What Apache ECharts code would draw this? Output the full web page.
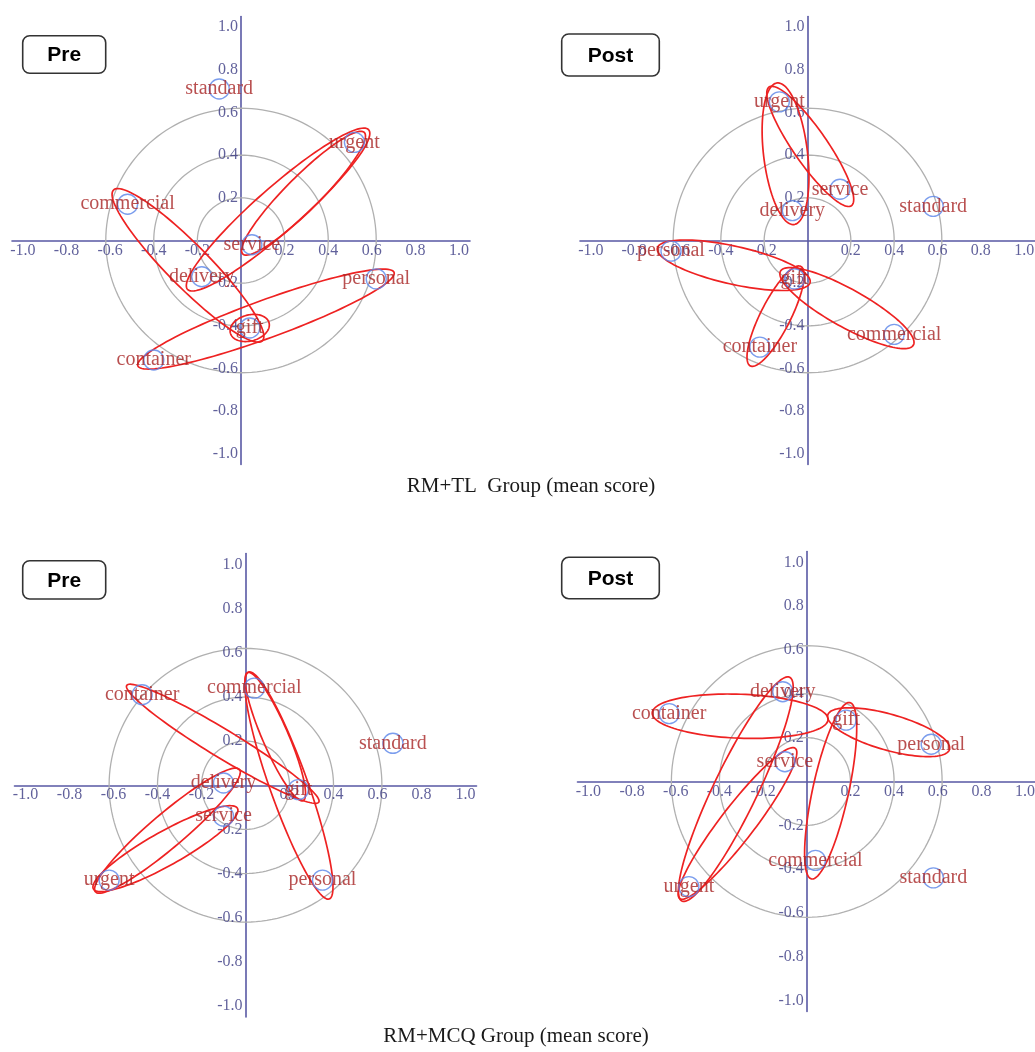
<!DOCTYPE html>
<html>
<head>
<meta charset="utf-8">
<script src="https://cdn.jsdelivr.net/npm/echarts@6/dist/echarts.min.js"></script>
<style>
html,body{margin:0;padding:0;background:#fff;}
#chart{width:1035px;height:1052px;}
</style>
</head>
<body>
<div id="chart"></div>
<script>
// ---- data ----
const WORDS = ['standard', 'urgent', 'commercial', 'service', 'delivery', 'personal', 'gift', 'container'];

// RM+TL group, pre
const TL_PRE_X = [-0.10, 0.52, -0.52, 0.05, -0.18, 0.62, 0.04, -0.40];
const TL_PRE_Y = [0.71, 0.46, 0.17, -0.02, -0.17, -0.18, -0.41, -0.56];
// RM+TL group, post
const TL_POST_X = [0.58, -0.13, 0.40, 0.15, -0.07, -0.63, -0.06, -0.22];
const TL_POST_Y = [0.16, 0.65, -0.44, 0.24, 0.14, -0.05, -0.18, -0.50];
// RM+MCQ group, pre
const MCQ_PRE_X = [0.67, -0.62, 0.04, -0.10, -0.10, 0.35, 0.24, -0.47];
const MCQ_PRE_Y = [0.19, -0.43, 0.44, -0.14, 0.01, -0.43, -0.02, 0.41];
// RM+MCQ group, post
const MCQ_POST_X = [0.58, -0.54, 0.04, -0.10, -0.11, 0.57, 0.18, -0.63];
const MCQ_POST_Y = [-0.44, -0.48, -0.36, 0.09, 0.41, 0.17, 0.28, 0.31];

// grouped word pairs (red loops)
const TL_PRE_GROUPS = [['urgent', 'delivery'], ['urgent', 'service'], ['commercial', 'gift'], ['container', 'personal'], ['gift', 'gift']];
const TL_POST_GROUPS = [['urgent', 'delivery'], ['urgent', 'service'], ['personal', 'gift'], ['gift', 'commercial'], ['container', 'gift']];
const MCQ_PRE_GROUPS = [['container', 'gift'], ['commercial', 'gift'], ['commercial', 'personal'], ['delivery', 'urgent'], ['service', 'urgent']];
const MCQ_POST_GROUPS = [['container', 'gift'], ['gift', 'personal'], ['delivery', 'urgent'], ['service', 'urgent'], ['gift', 'commercial']];

const RING_RADII = [0.2, 0.4, 0.62];
const TICK_LABELS = ['-1.0', '-0.8', '-0.6', '-0.4', '-0.2', '0.2', '0.4', '0.6', '0.8', '1.0'];
const PANEL_TAGS = ['Pre', 'Post', 'Pre', 'Post'];
const CAPTIONS = ['RM+TL  Group (mean score)', 'RM+MCQ Group (mean score)'];

// ---- loop drawing geometry (px): [extend past first, extend past second, half width, angle for single-word loop] ----
const TL_PRE_LOOPS = [[19, 19, 22], [14, 13, 17], [20, 18, 21], [17, 19, 19], [20, 20, 13, 15]];
const TL_POST_LOOPS = [[19, 14, 22], [18, 20, 17], [14, 16, 19], [16, 22, 19], [21, 14, 15]];
const MCQ_PRE_LOOPS = [[18, 24, 14], [17, 12, 13], [17, 20, 19], [21, 18, 17], [16, 18, 17]];
const MCQ_POST_LOOPS = [[17, -18, 22], [19, 19, 18], [16, 16, 22], [17, 15, 17], [18, 19, 18]];

// ---- layout & style ----
const GRID_BOXES = [
  {left: 12, top: 16.5, width: 458, height: 448},
  {left: 580, top: 16.5, width: 455, height: 448},
  {left: 14.5, top: 553.5, width: 462, height: 463.5},
  {left: 577.5, top: 551.5, width: 458.5, height: 460}
];
const TAG_BOXES = [
  {x: 22.7, y: 35.7, w: 83, h: 37.6},
  {x: 561.7, y: 34, w: 97.6, h: 42},
  {x: 22.7, y: 560.7, w: 83, h: 38.3},
  {x: 561.7, y: 557.3, w: 97.6, h: 41.4}
];
const CAPTION_POS = [[531, 486], [516, 1036]];

const AXIS_COLOR = '#5858a4';
const AXIS_LABEL_COLOR = '#3a3a82';
const WORD_COLOR = '#a82424';
const LOOP_COLOR = '#ee2222';
const RING_COLOR = '#b0b0b0';
const DOT_COLOR = '#5a84e8';
const SERIF = '"Liberation Serif", "Times New Roman", serif';

const PANELS = [
  {x: TL_PRE_X, y: TL_PRE_Y, groups: TL_PRE_GROUPS, loops: TL_PRE_LOOPS},
  {x: TL_POST_X, y: TL_POST_Y, groups: TL_POST_GROUPS, loops: TL_POST_LOOPS},
  {x: MCQ_PRE_X, y: MCQ_PRE_Y, groups: MCQ_PRE_GROUPS, loops: MCQ_PRE_LOOPS},
  {x: MCQ_POST_X, y: MCQ_POST_Y, groups: MCQ_POST_GROUPS, loops: MCQ_POST_LOOPS}
];

function ringItem(params, api) {
  const r = api.value(0);
  const c = api.coord([0, 0]);
  const s = api.size([r, r]);
  const pts = [];
  for (let k = 0; k <= 160; k++) {
    const t = k / 160 * 2 * Math.PI;
    pts.push([c[0] + s[0] * Math.cos(t), c[1] + s[1] * Math.sin(t)]);
  }
  return {type: 'polyline', shape: {points: pts}, style: {stroke: RING_COLOR, lineWidth: 1.3, fill: null}, silent: true};
}

function loopItem(params, api) {
  const a = api.coord([api.value(0), api.value(1)]);
  const b = api.coord([api.value(2), api.value(3)]);
  const eA = api.value(4), eB = api.value(5), hw = api.value(6), ang = api.value(7) || 0;
  const dx = b[0] - a[0], dy = b[1] - a[1];
  const len = Math.hypot(dx, dy);
  let ux, uy;
  if (len < 1e-6) { const r = ang * Math.PI / 180; ux = Math.cos(r); uy = -Math.sin(r); }
  else { ux = dx / len; uy = dy / len; }
  const p1 = [a[0] - ux * eA, a[1] - uy * eA];
  const p2 = [b[0] + ux * eB, b[1] + uy * eB];
  const cx = (p1[0] + p2[0]) / 2, cy = (p1[1] + p2[1]) / 2;
  const hl = Math.hypot(p2[0] - p1[0], p2[1] - p1[1]) / 2;
  const nx = -uy, ny = ux;
  const pts = [];
  for (let k = 0; k < 120; k++) {
    const t = k / 120 * 2 * Math.PI;
    const lx = hl * Math.cos(t), ly = hw * Math.sin(t);
    pts.push([cx + ux * lx + nx * ly, cy + uy * lx + ny * ly]);
  }
  return {type: 'polygon', shape: {points: pts}, style: {fill: 'none', stroke: LOOP_COLOR, lineWidth: 1.7}, silent: true};
}

const TICK_VALUES = TICK_LABELS.map(s => parseFloat(s));
const tickLabelStyle = {show: true, color: AXIS_LABEL_COLOR, fontFamily: SERIF, fontSize: 16, textBorderWidth: 0};

const grids = [], xAxes = [], yAxes = [], series = [];
PANELS.forEach((p, i) => {
  grids.push(Object.assign({outerBoundsMode: 'none', containLabel: false}, GRID_BOXES[i]));
  const axisCommon = {
    gridIndex: i, type: 'value', min: -1.05, max: 1.05, splitNumber: 10,
    axisLine: {show: true, onZero: true, lineStyle: {color: AXIS_COLOR, width: 1.6}},
    axisTick: {show: false}, splitLine: {show: false},
    axisLabel: {show: false}
  };
  xAxes.push(Object.assign({}, axisCommon));
  yAxes.push(Object.assign({}, axisCommon));

  series.push({
    type: 'custom', xAxisIndex: i, yAxisIndex: i, z: 1, silent: true,
    renderItem: ringItem,
    data: RING_RADII.map(r => [r, 0])
  });
  // tick labels along the horizontal axis (at y = 0)
  series.push({
    type: 'scatter', xAxisIndex: i, yAxisIndex: i, z: 2, silent: true,
    symbol: 'circle', symbolSize: 0,
    label: Object.assign({position: 'bottom', distance: 2, formatter: d => TICK_LABELS[d.dataIndex]}, tickLabelStyle),
    emphasis: {disabled: true},
    data: TICK_VALUES.map(v => [v, 0])
  });
  // tick labels along the vertical axis (at x = 0)
  series.push({
    type: 'scatter', xAxisIndex: i, yAxisIndex: i, z: 2, silent: true,
    symbol: 'circle', symbolSize: 0,
    label: Object.assign({position: 'left', distance: 3, formatter: d => TICK_LABELS[d.dataIndex]}, tickLabelStyle),
    emphasis: {disabled: true},
    data: TICK_VALUES.map(v => [0, v])
  });
  series.push({
    type: 'custom', xAxisIndex: i, yAxisIndex: i, z: 3, silent: true,
    renderItem: loopItem,
    data: p.groups.map((g, j) => {
      const ia = WORDS.indexOf(g[0]), ib = WORDS.indexOf(g[1]);
      const L = p.loops[j];
      return [p.x[ia], p.y[ia], p.x[ib], p.y[ib], L[0], L[1], L[2], L[3] || 0];
    })
  });
  series.push({
    type: 'scatter', xAxisIndex: i, yAxisIndex: i, z: 5, silent: true,
    symbol: 'circle', symbolSize: 20,
    itemStyle: {color: 'rgba(0,0,0,0)', borderColor: DOT_COLOR, borderWidth: 1.4},
    label: {show: true, position: 'inside', formatter: '{b}', color: WORD_COLOR, fontFamily: SERIF, fontSize: 20, textBorderWidth: 0},
    emphasis: {disabled: true},
    data: WORDS.map((w, k) => ({name: w, value: [p.x[k], p.y[k]]}))
  });
});

const graphics = [];
TAG_BOXES.forEach((b, i) => {
  graphics.push({
    type: 'rect', z: 10,
    shape: {x: b.x, y: b.y, width: b.w, height: b.h, r: 7},
    style: {fill: '#fff', stroke: '#333', lineWidth: 1.6}
  });
  graphics.push({
    type: 'text', z: 11, x: b.x + b.w / 2, y: b.y + b.h / 2 + 1,
    style: {text: PANEL_TAGS[i], font: 'bold 21px "Liberation Sans", Arial, sans-serif', fill: '#000',
            align: 'center', verticalAlign: 'middle', textAlign: 'center', textVerticalAlign: 'middle'}
  });
});
CAPTIONS.forEach((c, i) => {
  graphics.push({
    type: 'text', z: 10, x: CAPTION_POS[i][0], y: CAPTION_POS[i][1],
    style: {text: c, font: '21px ' + SERIF, fill: '#1a1a1a', align: 'center', verticalAlign: 'middle', textAlign: 'center', textVerticalAlign: 'middle'}
  });
});

const chart = echarts.init(document.getElementById('chart'), null, {renderer: 'canvas'});
chart.setOption({
  animation: false,
  backgroundColor: '#fff',
  grid: grids,
  xAxis: xAxes,
  yAxis: yAxes,
  series: series,
  graphic: {elements: graphics}
});
</script>
</body>
</html>
